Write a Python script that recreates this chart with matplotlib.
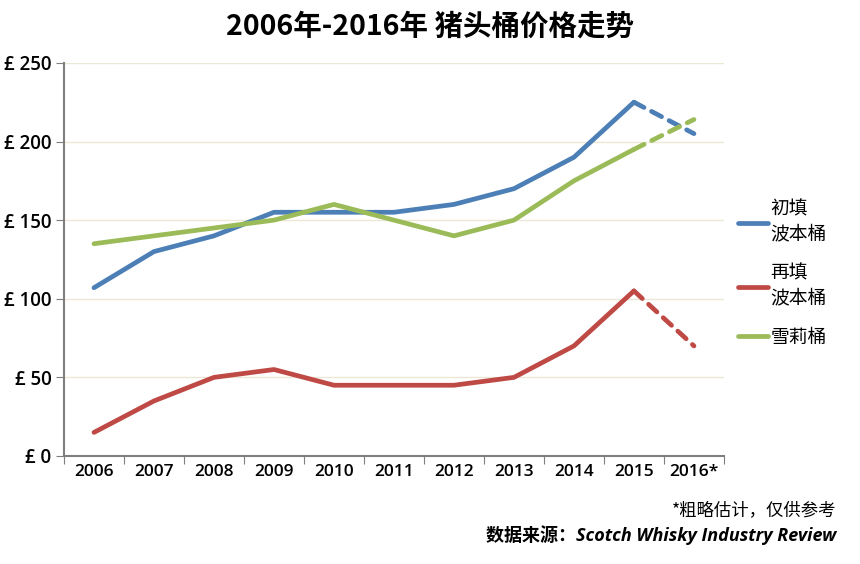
import matplotlib
matplotlib.use("Agg")
import matplotlib.pyplot as plt

plt.rcParams['font.family'] = ['Noto Sans CJK SC', 'DejaVu Sans']

# veriler
years = ["2006", "2007", "2008", "2009", "2010", "2011", "2012", "2013", "2014", "2015", "2016*"]
first_fill = [107, 130, 140, 155, 155, 155, 160, 170, 190, 225, 205]
refill = [15, 35, 50, 55, 45, 45, 45, 50, 70, 105, 70]
sherry = [135, 140, 145, 150, 160, 150, 140, 150, 175, 195, 214]
yticks = [0, 50, 100, 150, 200, 250]

names = ["初填\n波本桶", "再填\n波本桶", "雪莉桶"]
colors = ["#4b7fb6", "#bf4a45", "#9bbb59"]

num_font = ["Open Sans", "Noto Sans CJK SC"]

fig = plt.figure(figsize=(8.6, 5.64), dpi=100)
ax = fig.add_axes([0.0744, 0.1915, 0.7674, 0.697])

x = list(range(len(years)))
for vals, c, n in zip([first_fill, refill, sherry], colors, names):
    # 2015'e kadar duz, sonrasi tahmini -> kesik cizgi
    ax.plot(x[:-1], vals[:-1], color=c, lw=3.4, solid_capstyle="round", label=n)
    ax.plot(x[-2:], vals[-2:], color=c, lw=3.4, ls=(0, (2.4, 1.8)), dash_capstyle="round")

ax.set_xlim(-0.5, len(years) - 0.5)
ax.set_ylim(0, 250)
ax.set_yticks(yticks)
ax.set_yticklabels(["£ %d" % v for v in yticks], fontsize=13.5, fontweight="semibold",
                   family=num_font)
ax.set_xticks([i - 0.5 for i in range(len(years) + 1)])
ax.set_xticklabels([])
ax.set_xticks(x, minor=True)
ax.set_xticklabels(years, minor=True, fontsize=12.5, fontweight="semibold", family=num_font)
ax.tick_params(axis="x", which="minor", length=0, pad=6)
ax.tick_params(axis="x", which="major", length=6, color="#7f7f7f", direction="out")
ax.tick_params(axis="y", length=6, color="#7f7f7f", direction="out", pad=3)

for v in yticks[1:]:
    ax.axhline(v, color="#ece8d6", lw=1, zorder=0)

for s in ["top", "right"]:
    ax.spines[s].set_visible(False)
for s in ["left", "bottom"]:
    ax.spines[s].set_color("#7f7f7f")
    ax.spines[s].set_linewidth(1.5)

fig.text(0.5, 0.953, "2006年-2016年 猪头桶价格走势", ha="center", va="center",
         fontsize=20.5, fontweight="bold")

leg = ax.legend(loc="center left", bbox_to_anchor=(0.995, 0.465), frameon=False,
                fontsize=13.5, handlelength=1.6, labelspacing=1.0, handletextpad=0.15)

fig.text(0.972, 0.095, "*粗略估计，仅供参考", ha="right", va="center", fontsize=12.5)
fig.text(0.972, 0.052, "数据来源：Scotch Whisky Industry Review", ha="right", va="center",
         fontsize=13, fontweight="bold", fontstyle="italic", family=num_font)

fig.savefig("out.png", dpi=100, facecolor="white")
